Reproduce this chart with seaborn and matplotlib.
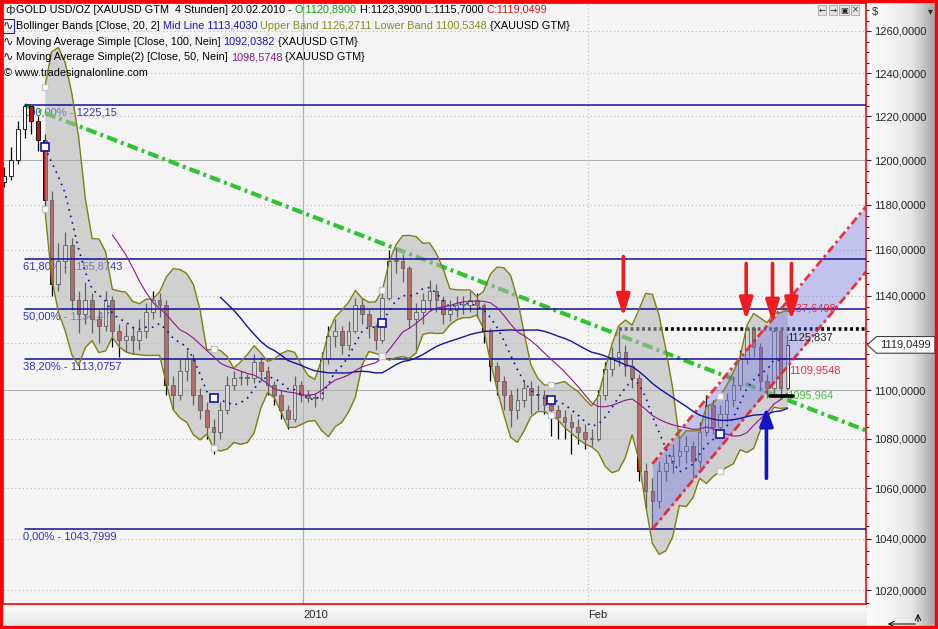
import numpy as np
import pandas as pd
import matplotlib
matplotlib.use("Agg")
import matplotlib.pyplot as plt
import seaborn as sns
from matplotlib.ticker import FixedLocator, FuncFormatter, NullFormatter
from matplotlib.offsetbox import TextArea, HPacker, AnchoredOffsetbox
from matplotlib.patches import Rectangle
from matplotlib.path import Path
from matplotlib.colors import LinearSegmentedColormap

# 12h bars (every third bar)
close = [1193, 1200, 1214, 1225, 1218, 1209, 1182, 1145, 1155, 1162,
         1138, 1132, 1138, 1130, 1127, 1138, 1125, 1121, 1123, 1121,
         1125, 1133, 1138, 1136, 1102, 1098, 1108, 1113, 1098, 1092,
         1085, 1083, 1092, 1102, 1105, 1105, 1105, 1112, 1108, 1102,
         1098, 1092, 1088, 1102, 1098, 1097, 1097, 1113, 1123, 1125,
         1119, 1125, 1136, 1132, 1127, 1121, 1139, 1155, 1155, 1152,
         1130, 1133, 1138, 1142, 1138, 1132, 1134, 1136, 1136, 1138,
         1136, 1125, 1110, 1104, 1098, 1092, 1096, 1101, 1098, 1098,
         1094, 1092, 1089, 1087, 1085, 1083, 1080, 1080, 1098, 1109,
         1114, 1116, 1110, 1105, 1067, 1059, 1055, 1067, 1070, 1073,
         1075, 1077, 1071, 1083, 1094, 1085, 1090, 1096, 1102, 1113,
         1126, 1118, 1104, 1101, 1125, 1101, 1119.0499]
high = [1197, 1206, 1218, 1225.15, 1225, 1220, 1212, 1186, 1163, 1168,
        1165, 1142, 1146, 1141, 1134, 1142, 1140, 1128, 1128, 1127,
        1130, 1137, 1142, 1141, 1138, 1106, 1113, 1117, 1115, 1101,
        1095, 1088, 1095, 1106, 1108, 1108, 1107, 1115, 1114, 1110,
        1104, 1100, 1094, 1106, 1104, 1100, 1099, 1116, 1127, 1130,
        1127, 1129, 1139, 1139, 1134, 1128, 1142, 1160, 1161, 1158,
        1153, 1137, 1141, 1147, 1145, 1140, 1138, 1140, 1140, 1142,
        1141, 1137, 1126, 1112, 1106, 1100, 1101, 1104, 1104, 1102,
        1100, 1097, 1094, 1092, 1090, 1088, 1086, 1084, 1100, 1112,
        1118, 1125.837, 1119, 1113, 1107, 1070, 1064, 1071, 1074, 1078,
        1080, 1081, 1079, 1087, 1098, 1096, 1094, 1099, 1106, 1117,
        1127, 1127, 1120, 1107, 1126.5, 1126, 1123.39]
low = [1188, 1191, 1198, 1210, 1212, 1204, 1178, 1140, 1142, 1150,
       1134, 1124, 1128, 1124, 1120, 1125, 1118, 1114, 1116, 1115,
       1117, 1122, 1130, 1131, 1098, 1092, 1096, 1104, 1094, 1088,
       1080, 1074, 1080, 1090, 1100, 1102, 1102, 1103, 1104, 1098,
       1094, 1088, 1084, 1087, 1095, 1095, 1093, 1096, 1111, 1118,
       1115, 1117, 1124, 1128, 1122, 1117, 1120, 1138, 1150, 1146,
       1126, 1117, 1128, 1134, 1133, 1128, 1129, 1131, 1132, 1133,
       1131, 1120, 1104, 1098, 1092, 1085, 1088, 1093, 1090, 1092,
       1090, 1081, 1080, 1080, 1074, 1078, 1076, 1077, 1079, 1096,
       1106, 1110, 1106, 1101, 1063, 1052, 1043.7999, 1052, 1063, 1066,
       1069, 1070, 1064, 1068, 1081, 1082, 1082, 1087, 1093, 1100,
       1111, 1114, 1100, 1097, 1099, 1098, 1100]
first_open = 1190.0

fib_pcts = [1.0, 0.618, 0.5, 0.382, 0.0]
fib_labels = ["100,00% - 1225,15", "61,80% - 1155,8743", "50,00% - 1134,475",
              "38,20% - 1113,0757", "0,00% - 1043,7999"]

trend_bars = [3, 116]
trend_prices = [1225.15, 1095.964]
channel_bars = [96, 116]
channel_lower = [1043.7999, 1109.9548]
channel_upper_last = 1137.6498
resistance_bar = 91
support_bars = [113.5, 116.8]
support_price = 1097.5

red_arrow_x = [91.7, 109.9, 113.8, 116.6]
red_arrow_from = [1157, 1154, 1154, 1154]
red_arrow_to = [1131, 1129.5, 1128.5, 1129.5]
blue_arrow_x = 112.9
blue_arrow_from = 1064
blue_arrow_to = 1093

month_ticks = [44.3, 86.5]
month_labels = ["2010", "Feb"]
price_ticks = list(range(1020, 1261, 20))

df = pd.DataFrame({"bar": np.arange(len(close)), "close": close, "high": high, "low": low})
df["open"] = df["close"].shift(1).fillna(first_open)
df["mid"] = df["close"].rolling(7).mean()
sd = df["close"].rolling(7).std(ddof=0)
df["upper"] = df["mid"] + 2 * sd
df["lower"] = df["mid"] - 2 * sd
df["ma50"] = df["close"].rolling(17).mean()
df["ma100"] = df["close"].rolling(33).mean()

sns.set_style("white")
plt.rcParams["font.family"] = ["Liberation Sans", "DejaVu Sans"]

W, H = 938, 629
fig = plt.figure(figsize=(W / 100, H / 100), dpi=100)
fig.patch.set_facecolor("#f4f4f4")

def fx(px):
    return px / W

def fy(py):
    return 1 - py / H

ax = fig.add_axes([fx(3), fy(604), fx(866) - fx(3), fy(3) - fy(604)])
ax.set_facecolor("#f4f4f4")
ax.set_yscale("log")
xmax = 127.65
ax.set_xlim(-0.2, xmax)
ax.set_ylim(1014.65, 1273.4)

# grid
for v in price_ticks:
    if v in (1100, 1200):
        ax.axhline(v, color="#a9b5a9", lw=0.8, zorder=0.5)
    else:
        ax.axhline(v, color="#b8b8b8", lw=0.8, ls=(0, (1, 2.5)), zorder=0.5)
ax.axvline(month_ticks[0], color="#a9b5a9", lw=0.9, zorder=0.5)
ax.axvline(month_ticks[1], color="#b8b8b8", lw=0.8, ls=(0, (1, 2.5)), zorder=0.5)

# fibonacci retracement
top_bar = int(np.argmax(high))
hi, lo = max(high), min(low)
for p, lab in zip(fib_pcts, fib_labels):
    lvl = lo + (hi - lo) * p
    ax.plot([top_bar, xmax], [lvl, lvl], color="#101098", lw=1.1, zorder=3.5)
    ax.annotate(lab, xy=(top_bar, lvl), xytext=(-1, -2), textcoords="offset points",
                ha="left", va="top", fontsize=8, color="#3434cc", zorder=1.5)

def extend(b, p, xs):
    k = (np.log(p[1]) - np.log(p[0])) / (b[1] - b[0])
    return np.exp(np.log(p[0]) + k * (np.asarray(xs) - b[0]))

# green trendline
tx = [trend_bars[0], xmax]
ax.plot(tx, extend(trend_bars, trend_prices, tx), color="#2ec42e", lw=3,
        ls=(0, (2.6, 1.0, 0.7, 1.0)), zorder=1.8)

# resistance dotted line
res = high[resistance_bar]
ax.plot([resistance_bar, xmax], [res, res], color="black", lw=2.6, ls=(0, (0.8, 0.8)), zorder=2.2)

# candles
up = df["close"] >= df["open"]
ax.vlines(df["bar"], df["low"], df["high"], color="black", lw=0.9, zorder=2)
body_lo = np.minimum(df["open"], df["close"])
body_h = np.maximum(np.abs(df["close"] - df["open"]), 0.4)
ax.bar(df["bar"], body_h, bottom=body_lo, width=0.55,
       color=np.where(up, "white", "#b51818"), edgecolor="black", lw=0.6, zorder=2.1)

# bollinger band fill over the candles
ax.fill_between(df["bar"], df["lower"], df["upper"], color="#b4b4b4", alpha=0.55, lw=0, zorder=3)

# channel
cx = np.linspace(channel_bars[0], xmax, 50)
c_low = extend(channel_bars, channel_lower, cx)
c_up = extend(channel_bars, [channel_lower[0] * channel_upper_last / channel_lower[1],
                              channel_upper_last], cx)
ax.fill_between(cx, c_low, c_up, color="#6e6ee8", alpha=0.36, lw=0, zorder=3.1)
for yy in (c_low, c_up):
    ax.plot(cx, yy, color="#e8202c", lw=2, ls=(0, (3, 1.3, 1, 1.3)), alpha=0.9, zorder=4)

# indicators
sns.lineplot(data=df, x="bar", y="upper", ax=ax, color="#7f7f10", lw=1, zorder=4)
sns.lineplot(data=df, x="bar", y="lower", ax=ax, color="#7f7f10", lw=1, zorder=4)
sns.lineplot(data=df, x="bar", y="mid", ax=ax, color="#1010a8", lw=1.2, ls=(0, (1, 3)), zorder=4)
sns.lineplot(data=df, x="bar", y="ma100", ax=ax, color="#14149c", lw=1, zorder=4)
sns.lineplot(data=df, x="bar", y="ma50", ax=ax, color="#8a1a8a", lw=0.8, zorder=4)

# selection handles on the bollinger bands
for b in range(6, len(df), 25):
    ax.plot(b, df["upper"][b], "s", ms=5, mfc="white", mec="#c8c8c8", mew=1, zorder=5)
    ax.plot(b, df["lower"][b], "s", ms=5, mfc="white", mec="#c8c8c8", mew=1, zorder=5)
    ax.plot(b, df["mid"][b], "s", ms=6, mfc="white", mec="#1010b0", mew=1.2, zorder=5)

# support segment
ax.plot(support_bars, [support_price] * 2, color="black", lw=2.6, zorder=5)

# arrows
for x0, y0, y1 in zip(red_arrow_x, red_arrow_from, red_arrow_to):
    ax.annotate("", xy=(x0, y1), xytext=(x0, y0),
                arrowprops=dict(arrowstyle="-|>,head_width=0.4,head_length=1.3",
                                color="#ee1c1c", lw=2.6, shrinkA=0, shrinkB=0), zorder=6)
ax.annotate("", xy=(blue_arrow_x, blue_arrow_to), xytext=(blue_arrow_x, blue_arrow_from),
            arrowprops=dict(arrowstyle="-|>,head_width=0.4,head_length=1.1",
                            color="#1414c8", lw=2.6, shrinkA=0, shrinkB=0), zorder=6)

# value labels at the last bar
last = len(df) - 1
ax.annotate("1125,837", xy=(last, res), xytext=(0, -6), textcoords="offset points",
            va="center", fontsize=8, color="#202020", zorder=6)
ax.annotate("1137,6498", xy=(last, channel_upper_last), xytext=(-2, -5.5), textcoords="offset points",
            va="center", fontsize=8, color="#e8303c", zorder=5.5)
ax.annotate("1109,9548", xy=(last, channel_lower[1]), xytext=(1, -3), textcoords="offset points",
            va="center", fontsize=8, color="#e8303c", zorder=6)
ax.annotate("1095,964", xy=(last, trend_prices[1]), xytext=(0, 3.5), textcoords="offset points",
            va="center", fontsize=8, color="#44c044", zorder=4.5)


# axes styling; the price tag sits where the 1120 label would be
def price_fmt(v, pos):
    if abs(v - close[-1]) < 5:
        return ""
    return f"{v:.4f}".replace(".", ",")


ax.set_xlabel("")
ax.set_ylabel("")
ax.yaxis.tick_right()
ax.yaxis.set_major_locator(FixedLocator(price_ticks))
ax.yaxis.set_major_formatter(FuncFormatter(price_fmt))
ax.yaxis.set_minor_locator(FixedLocator([v for v in range(1015, 1275, 5) if v % 20]))
ax.yaxis.set_minor_formatter(NullFormatter())
ax.tick_params(axis="y", which="major", direction="out", length=3.5, width=0.8, pad=2,
               labelsize=8, right=True, left=False)
ax.tick_params(axis="y", which="minor", direction="out", length=2, width=0.8, right=True, left=False,
               labelright=False, labelleft=False)
ax.set_xticks(month_ticks)
ax.set_xticklabels(month_labels)
ax.tick_params(axis="x", direction="out", length=4.5, width=0.8, pad=0, labelsize=8)
for t in ax.get_xticklabels():
    t.set_ha("left")
for s in ax.spines.values():
    s.set_color("#ff0000")
    s.set_linewidth(1.2)


# current price tag: a box pointing left at the axis
def tag_box(x0, y0, width, height, mutation_size):
    pad = 0.3 * mutation_size
    x0, y0, w, h = x0 - pad, y0 - pad, width + 2 * pad + 1, height + 2 * pad
    tip = 0.55 * h
    verts = [(x0 - tip, y0 + h / 2), (x0, y0 + h), (x0 + w, y0 + h), (x0 + w, y0), (x0, y0),
             (x0 - tip, y0 + h / 2)]
    return Path(verts, closed=True)


ax.annotate(f"{close[-1]:.4f}".replace(".", ","),
            xy=(1, close[-1]), xycoords=("axes fraction", "data"), xytext=(10, 0),
            textcoords="offset points", va="center", ha="left", fontsize=8, zorder=21,
            annotation_clip=False,
            bbox=dict(boxstyle=tag_box, fc="white", ec="#404040", lw=0.8))

# gradient strips for the axes
strip_cmap = LinearSegmentedColormap.from_list("strip", ["#fbfbfb", "#e6e6e6", "#9c9c9c"])
ax_r = fig.add_axes([fx(866), 0, 1 - fx(866), 1], zorder=-1)
ax_r.imshow(np.linspace(0, 1, 200).reshape(1, -1) ** 1.5, aspect="auto", cmap=strip_cmap)
ax_r.axis("off")
ax_b = fig.add_axes([0, 0, fx(866), fy(604)], zorder=-1)
ax_b.imshow(np.linspace(0, 0.55, 50).reshape(-1, 1), aspect="auto", cmap=strip_cmap, vmin=0, vmax=1)
ax_b.axis("off")

fig.text(fx(872), fy(12), "$", va="center", fontsize=8)
fig.text(fx(928), fy(11), "▾", va="center", fontsize=7, family="DejaVu Sans")
for k, sym in enumerate(["←", "→", "▣", "×"]):
    fig.text(fx(822 + 11 * k), fy(10), sym, ha="center", va="center", fontsize=6,
             family="DejaVu Sans", bbox=dict(boxstyle="square,pad=0.1", fc="#e4e4e4", ec="#9a9a9a", lw=0.5))
ax_b.annotate("", xy=(fx(885), fy(624)), xytext=(fx(918), fy(624)), xycoords="figure fraction",
              arrowprops=dict(arrowstyle="->", lw=0.7, color="black"))
ax_b.annotate("", xy=(fx(918), fy(611)), xytext=(fx(918), fy(624.5)), xycoords="figure fraction",
              arrowprops=dict(arrowstyle="->", lw=0.7, color="black"))

# header legend lines
header = [
    [("GOLD USD/OZ [XAUUSD GTM  4 Stunden] 20.02.2010 - ", "black"), ("O:1120,8900", "#1e9a1e"),
     (" H:1123,3900 L:1115,7000 ", "black"), ("C:1119,0499", "#d81414")],
    [("Bollinger Bands [Close, 20, 2] ", "black"), ("Mid Line 1113,4030", "#1414c0"),
     (" Upper Band 1126,2711 Lower Band 1100,5348", "#8a8a24"), (" {XAUUSD GTM}", "black")],
    [("Moving Average Simple [Close, 100, Nein] ", "black"), ("1092,0382", "#1414c0"),
     (" {XAUUSD GTM}", "black")],
    [("Moving Average Simple(2) [Close, 50, Nein] ", "black"), ("1098,5748", "#8a1a8a"),
     (" {XAUUSD GTM}", "black")],
    [("© www.tradesignalonline.com", "black")],
]
header_y = [10, 26, 42, 57, 73]
header_x = [16, 16, 16, 16, 4]
for parts, py, px in zip(header, header_y, header_x):
    boxes = [TextArea(t, textprops=dict(color=c, fontsize=7.8, family=["Liberation Sans", "DejaVu Sans"]))
             for t, c in parts]
    pack = HPacker(children=boxes, align="baseline", pad=0, sep=0)
    ab = AnchoredOffsetbox(loc="center left", child=pack, pad=0, borderpad=0, frameon=False,
                           bbox_to_anchor=(fx(px), fy(py)), bbox_transform=fig.transFigure)
    ab.set_zorder(10)
    ax.add_artist(ab)
fig.text(fx(5), fy(10), "ф", va="center", fontsize=8, family="DejaVu Sans")
for py in header_y[1:4]:
    fig.text(fx(3), fy(py), "∿", va="center", fontsize=9, family="DejaVu Sans",
             bbox=dict(boxstyle="square,pad=0.05", fc="none", ec="#2020c0" if py == 26 else "none", lw=0.8))

fig.add_artist(Rectangle((0, 0), 1, 1, transform=fig.transFigure, fill=False, ec="#ff0000", lw=4.5, zorder=30))

fig.savefig("out.png", dpi=100, facecolor=fig.get_facecolor())
